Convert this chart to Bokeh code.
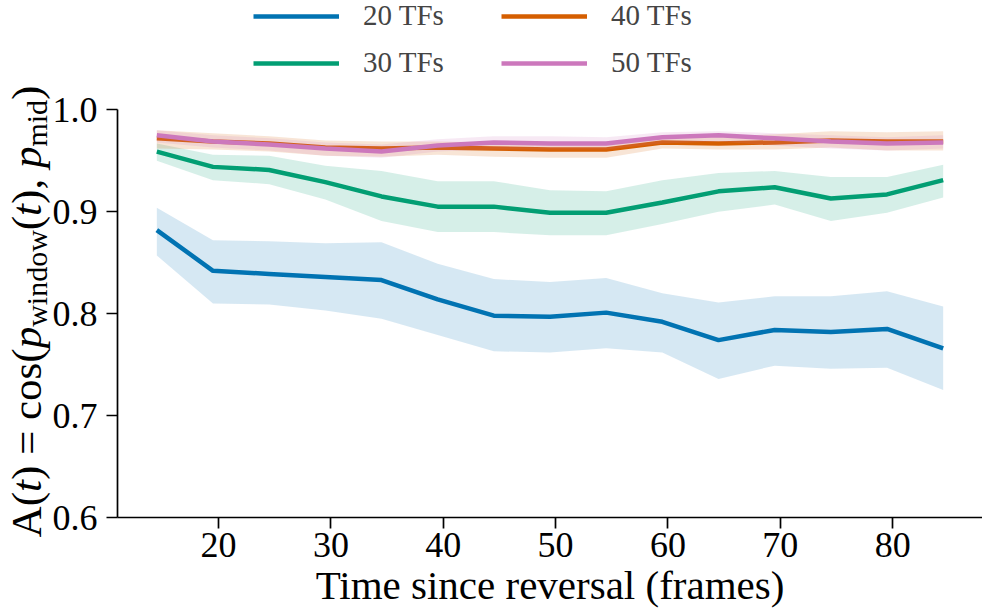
from bokeh.plotting import figure
from bokeh.models import Range1d, FixedTicker, Label, Legend, LegendItem, NumeralTickFormatter
from bokeh.embed import file_html
from bokeh.resources import INLINE

# ---- data ----
frames = [14.5, 19.5, 24.5, 29.5, 34.5, 39.5, 44.5, 49.5, 54.5, 59.5, 64.5, 69.5, 74.5, 79.5, 84.5]

tf20_mean = [0.882, 0.842, 0.839, 0.836, 0.833, 0.814, 0.798, 0.797, 0.801, 0.792, 0.774, 0.784, 0.782, 0.785, 0.766]
tf20_hi   = [0.904, 0.872, 0.871, 0.869, 0.870, 0.849, 0.834, 0.831, 0.835, 0.820, 0.811, 0.817, 0.817, 0.822, 0.807]
tf20_lo   = [0.857, 0.810, 0.809, 0.803, 0.795, 0.779, 0.763, 0.762, 0.766, 0.762, 0.736, 0.749, 0.746, 0.747, 0.725]

tf30_mean = [0.959, 0.944, 0.941, 0.929, 0.915, 0.905, 0.905, 0.899, 0.899, 0.909, 0.920, 0.924, 0.913, 0.917, 0.931]
tf30_hi   = [0.967, 0.956, 0.955, 0.945, 0.940, 0.930, 0.930, 0.921, 0.920, 0.931, 0.938, 0.940, 0.934, 0.934, 0.946]
tf30_lo   = [0.950, 0.931, 0.927, 0.912, 0.891, 0.880, 0.880, 0.877, 0.877, 0.888, 0.900, 0.907, 0.891, 0.899, 0.914]

tf40_mean = [0.972, 0.969, 0.967, 0.963, 0.962, 0.963, 0.962, 0.961, 0.961, 0.968, 0.967, 0.968, 0.970, 0.969, 0.969]
tf40_hi   = [0.980, 0.977, 0.974, 0.970, 0.969, 0.969, 0.968, 0.968, 0.968, 0.973, 0.974, 0.976, 0.979, 0.978, 0.979]
tf40_lo   = [0.962, 0.961, 0.959, 0.955, 0.954, 0.956, 0.954, 0.953, 0.953, 0.962, 0.961, 0.961, 0.963, 0.960, 0.960]

tf50_mean = [0.975, 0.969, 0.966, 0.962, 0.959, 0.965, 0.968, 0.967, 0.967, 0.973, 0.975, 0.972, 0.969, 0.967, 0.968]
tf50_hi   = [0.980, 0.975, 0.972, 0.968, 0.966, 0.971, 0.974, 0.974, 0.973, 0.978, 0.979, 0.977, 0.975, 0.973, 0.975]
tf50_lo   = [0.968, 0.963, 0.960, 0.955, 0.953, 0.959, 0.961, 0.961, 0.961, 0.967, 0.969, 0.965, 0.962, 0.960, 0.962]

series_names = ["20 TFs", "30 TFs", "40 TFs", "50 TFs"]
colors = ["#0173b2", "#029e73", "#d55e00", "#cc78bc"]
x_ticks = [20, 30, 40, 50, 60, 70, 80]
y_ticks = [0.6, 0.7, 0.8, 0.9, 1.0]
x_lim = (11, 88)
y_lim = (0.6, 1.0)

FONT = "Liberation Serif"
W, H = 982, 608
# placement of the axes box inside the canvas (pixels)
AX_LEFT, AX_RIGHT, AX_TOP, AX_BOTTOM = 117.0, 982.0, 109.3, 517.0

xs = (AX_RIGHT - AX_LEFT) / (x_lim[1] - x_lim[0])
ys = (AX_BOTTOM - AX_TOP) / (y_lim[1] - y_lim[0])
xr = Range1d(x_lim[0] - AX_LEFT / xs, x_lim[1] + (W - AX_RIGHT) / xs)
yr = Range1d(y_lim[0] - (H - AX_BOTTOM) / ys, y_lim[1] + AX_TOP / ys)

p = figure(width=W, height=H, x_range=xr, y_range=yr,
           output_backend="svg", toolbar_location=None,
           min_border_left=0, min_border_right=0, min_border_top=0, min_border_bottom=0)
p.outline_line_color = None
p.xgrid.visible = False
p.ygrid.visible = False
p.background_fill_color = "white"
p.border_fill_color = "white"

for ax in (p.xaxis, p.yaxis):
    ax.axis_line_width = 1.7
    ax.axis_line_color = "black"
    ax.major_tick_line_width = 1.7
    ax.major_tick_line_color = "black"
    ax.major_tick_out = 11
    ax.major_tick_in = 0
    ax.minor_tick_line_color = None
    ax.major_label_text_font = FONT
    ax.major_label_text_font_size = "36px"
    ax.major_label_text_color = "black"

p.xaxis.ticker = FixedTicker(ticks=x_ticks)
p.yaxis.ticker = FixedTicker(ticks=y_ticks)
p.yaxis.formatter = NumeralTickFormatter(format="0.0")
p.xaxis.fixed_location = y_lim[0]
p.yaxis.fixed_location = x_lim[0]
p.xaxis.bounds = x_lim
p.yaxis.bounds = y_lim
p.xaxis.major_label_standoff = 4
p.yaxis.major_label_standoff = 9

means = [tf20_mean, tf30_mean, tf40_mean, tf50_mean]
his = [tf20_hi, tf30_hi, tf40_hi, tf50_hi]
los = [tf20_lo, tf30_lo, tf40_lo, tf50_lo]

items = []
for name, col, m, hi, lo in zip(series_names, colors, means, his, los):
    p.varea(x=frames, y1=lo, y2=hi, fill_color=col, fill_alpha=0.16)
    r = p.line(frames, m, line_color=col, line_width=4.5)
    items.append(LegendItem(label=name, renderers=[r]))

legend = Legend(items=items, ncols=2, location=(253, H - 79),
                label_text_font=FONT, label_text_font_size="29px",
                glyph_width=86, glyph_height=30, label_height=30, label_width=124,
                label_standoff=24, spacing=14, padding=0, margin=0,
                border_line_alpha=0, background_fill_alpha=0)
p.add_layout(legend)

# x-axis label
p.add_layout(Label(x=(AX_LEFT + AX_RIGHT) / 2, y=H - 584, x_units="screen", y_units="screen",
                   text="Time since reversal (frames)", text_align="center",
                   text_baseline="alphabetic", text_font=FONT, text_font_size="41px",
                   text_color="black"))

# y-axis label built from pieces (rotated)
F = 43
S = 30
pieces = [
    ("A(", "normal", F, 0, 0.722 + 0.333),
    ("t", "italic", F, 0, 0.278),
    (") = cos(", "normal", F, 0, 0.333 + 0.25 + 0.564 + 0.25 + 0.444 + 0.5 + 0.389 + 0.333),
    ("p", "italic", F, 0, 0.5),
    ("window", "normal", S, 10, 0.722 + 0.278 + 0.5 + 0.5 + 0.5 + 0.722),
    ("(", "normal", F, 0, 0.333),
    ("t", "italic", F, 0, 0.278),
    ("), ", "normal", F, 0, 0.333 + 0.25 + 0.25),
    ("p", "italic", F, 0, 0.5),
    ("mid", "normal", S, 10, 0.778 + 0.278 + 0.5),
    (")", "normal", F, 0, 0.333),
]
total = sum(w * size for _, _, size, _, w in pieces)
center_y = H - 311
pos = center_y - total / 2
base_x = 26
for txt, style, size, shift, w in pieces:
    p.add_layout(Label(x=base_x + shift, y=pos, x_units="screen", y_units="screen",
                       text=txt, angle=90, angle_units="deg", text_align="left",
                       text_baseline="alphabetic", text_font=FONT, text_font_style=style,
                       text_font_size=f"{size}px", text_color="black"))
    pos += w * size

open("out.html", "w").write(file_html(p, INLINE))
